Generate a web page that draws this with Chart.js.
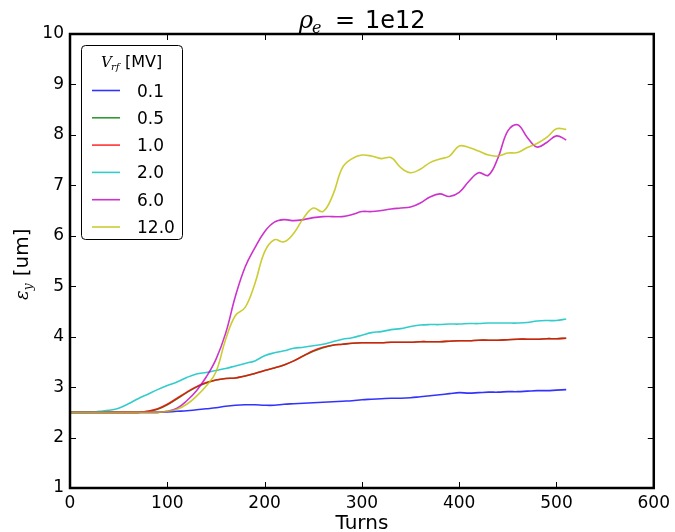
<!DOCTYPE html>
<html><head><meta charset="utf-8">
<script src="https://cdn.jsdelivr.net/npm/chart.js@4/dist/chart.umd.min.js"></script>
<style>html,body{margin:0;padding:0;background:#fff;}canvas{display:block;}</style>
</head><body>
<canvas id="c" width="675" height="532"></canvas>
<script>
const turns = [0,10,20,30,40,50,60,70,80,90,100,110,120,130,140,150,160,170,180,190,200,210,220,230,240,250,260,270,280,290,300,310,320,330,340,350,360,370,380,390,400,410,420,430,440,450,460,470,480,490,500,510];
const seriesLabels = ['0.1','0.5','1.0','2.0','6.0','12.0'];
const v01 = [2.5,2.5,2.5,2.5,2.5,2.5,2.5,2.5,2.5,2.5,
  2.51,2.52,2.53,2.55,2.57,2.59,2.62,2.64,2.65,2.65,
  2.64,2.64,2.66,2.67,2.68,2.69,2.70,2.71,2.72,2.73,
  2.75,2.76,2.77,2.78,2.78,2.79,2.81,2.83,2.85,2.87,
  2.89,2.88,2.89,2.90,2.90,2.91,2.91,2.92,2.93,2.93,
  2.94,2.95];
const v05 = [2.5,2.5,2.5,2.5,2.5,2.5,2.5,2.5,2.52,2.56,
  2.65,2.77,2.89,3.00,3.08,3.14,3.17,3.18,3.22,3.27,
  3.33,3.38,3.44,3.52,3.62,3.71,3.78,3.83,3.85,3.87,
  3.88,3.88,3.88,3.89,3.89,3.89,3.90,3.90,3.90,3.91,
  3.92,3.92,3.93,3.93,3.93,3.94,3.95,3.95,3.95,3.96,
  3.96,3.97];
const v10 = [2.5,2.5,2.5,2.5,2.5,2.5,2.5,2.5,2.52,2.57,
  2.66,2.78,2.90,3.01,3.09,3.14,3.17,3.18,3.22,3.27,
  3.33,3.38,3.44,3.52,3.62,3.72,3.79,3.83,3.85,3.87,
  3.88,3.88,3.88,3.89,3.89,3.89,3.90,3.90,3.90,3.91,
  3.92,3.92,3.93,3.93,3.93,3.94,3.95,3.95,3.95,3.96,
  3.96,3.97];
const v20 = [2.5,2.5,2.5,2.52,2.54,2.58,2.67,2.77,2.86,2.95,
  3.03,3.10,3.19,3.26,3.29,3.33,3.37,3.42,3.47,3.52,
  3.62,3.68,3.72,3.77,3.79,3.82,3.85,3.90,3.95,3.98,
  4.03,4.08,4.10,4.14,4.16,4.20,4.23,4.24,4.24,4.25,
  4.25,4.26,4.26,4.27,4.27,4.27,4.27,4.28,4.31,4.32,
  4.32,4.35];
const v60 = [2.5,2.5,2.5,2.5,2.5,2.5,2.5,2.5,2.5,2.5,
  2.52,2.58,2.73,2.93,3.20,3.55,4.07,4.80,5.38,5.76,
  6.08,6.27,6.32,6.30,6.32,6.36,6.38,6.38,6.38,6.42,
  6.48,6.48,6.50,6.53,6.55,6.57,6.65,6.77,6.83,6.78,
  6.86,7.08,7.25,7.20,7.55,8.08,8.20,7.95,7.76,7.85,
  7.98,7.90];
const v120 = [2.5,2.5,2.5,2.5,2.5,2.5,2.5,2.5,2.5,2.5,
  2.52,2.56,2.66,2.82,3.02,3.30,3.95,4.42,4.58,5.05,
  5.68,5.92,5.88,6.05,6.35,6.55,6.48,6.80,7.35,7.53,
  7.60,7.58,7.53,7.55,7.35,7.25,7.32,7.45,7.52,7.58,
  7.78,7.75,7.68,7.60,7.58,7.64,7.65,7.75,7.83,7.95,
  8.12,8.11];
const xTickValues = [0,100,200,300,400,500,600];
const yTickValues = [1,2,3,4,5,6,7,8,9,10];

const seriesValues = [v01, v05, v10, v20, v60, v120];
const colors = ['rgba(0,0,255,0.8)','rgba(0,128,0,0.8)','rgba(255,0,0,0.8)','rgba(0,191,191,0.8)','rgba(191,0,191,0.8)','rgba(191,191,0,0.8)'];

const datasets = seriesValues.map((vals, i) => ({
  label: seriesLabels[i],
  data: turns.map((t, j) => ({x: t, y: vals[j]})),
  borderColor: colors[i],
  backgroundColor: colors[i],
  borderWidth: 1.6,
  pointRadius: 0,
  tension: 0.4,
  fill: false,
  order: seriesValues.length - i
}));

const SANS = '"DejaVu Sans"';
const SERIF = '"DejaVu Serif"';

const deco = {
  id: 'deco',
  afterDatasetsDraw(chart) {
    const {ctx, chartArea: a, scales: {x, y}} = chart;
    ctx.save();
    ctx.strokeStyle = '#000';
    ctx.lineWidth = 1;
    const L = 6;
    ctx.beginPath();
    xTickValues.forEach(v => {
      const px = Math.round(x.getPixelForValue(v)) + 0.5;
      ctx.moveTo(px, a.bottom); ctx.lineTo(px, a.bottom - L);
      ctx.moveTo(px, a.top); ctx.lineTo(px, a.top + L);
    });
    yTickValues.forEach(v => {
      const py = Math.round(y.getPixelForValue(v)) + 0.5;
      ctx.moveTo(a.left, py); ctx.lineTo(a.left + L, py);
      ctx.moveTo(a.right, py); ctx.lineTo(a.right - L, py);
    });
    ctx.stroke();
    ctx.lineWidth = 2.5;
    ctx.strokeRect(a.left, a.top, a.right - a.left, a.bottom - a.top);

    // legend
    const lx = 81.5, ly = 45.5, lw = 101, lh = 194;
    ctx.beginPath();
    ctx.roundRect(lx, ly, lw, lh, 4);
    ctx.fillStyle = '#fff';
    ctx.fill();
    ctx.lineWidth = 1;
    ctx.strokeStyle = '#000';
    ctx.stroke();
    ctx.fillStyle = '#000';
    ctx.textBaseline = 'alphabetic';
    ctx.textAlign = 'left';
    ctx.font = 'italic 15px ' + SERIF;
    ctx.fillText('V', 101, 67);
    ctx.font = 'italic 10px ' + SERIF;
    ctx.fillText('rf', 111, 70);
    ctx.font = '16px ' + SANS;
    ctx.fillText('[MV]', 125, 67);
    chart.data.datasets.forEach((ds, i) => {
      const cy = 90.5 + 27.3 * i;
      ctx.strokeStyle = ds.borderColor;
      ctx.lineWidth = 1.6;
      ctx.beginPath();
      ctx.moveTo(92, cy); ctx.lineTo(120, cy);
      ctx.stroke();
      ctx.fillStyle = '#000';
      ctx.font = '17px ' + SANS;
      ctx.fillText(ds.label, 137, cy + 6);
    });

    // title
    ctx.fillStyle = '#000';
    ctx.font = 'italic 24px ' + SERIF;
    ctx.fillText('\u03C1', 299, 28);
    ctx.font = 'italic 16px ' + SERIF;
    ctx.fillText('e', 312, 33);
    ctx.font = '24px ' + SANS;
    ctx.fillText('=', 335, 28);
    ctx.fillText('1e12', 365, 28);

    // x label
    ctx.textAlign = 'center';
    ctx.font = '20px ' + SANS;
    ctx.fillText('Turns', (a.left + a.right) / 2, 529);

    // y label
    ctx.save();
    ctx.translate(28, 300);
    ctx.rotate(-Math.PI / 2);
    ctx.textAlign = 'left';
    ctx.font = 'italic 18px ' + SERIF;
    ctx.fillText('\u03B5', 0, 0);
    const w1 = ctx.measureText('\u03B5').width;
    ctx.font = 'italic 12px ' + SERIF;
    ctx.fillText('y', w1, 4);
    const w2 = ctx.measureText('y').width;
    ctx.font = '20px ' + SANS;
    ctx.fillText(' [um]', w1 + w2 + 1, 0);
    ctx.restore();

    ctx.restore();
  }
};

new Chart(document.getElementById('c'), {
  type: 'line',
  data: { datasets },
  options: {
    responsive: false,
    animation: false,
    devicePixelRatio: 1,
    layout: { padding: { left: 0, right: 18, top: 34, bottom: 0 } },
    plugins: { legend: { display: false }, tooltip: { enabled: false }, title: { display: false } },
    scales: {
      x: {
        type: 'linear', min: 0, max: 600,
        afterBuildTicks: s => { s.ticks = xTickValues.map(v => ({value: v})); },
        afterFit: s => { s.height = 44; },
        grid: { display: false, drawTicks: false },
        border: { display: false },
        ticks: { color: '#000', font: { family: 'DejaVu Sans', size: 17 }, padding: 5, maxRotation: 0 }
      },
      y: {
        type: 'linear', min: 1, max: 10,
        afterBuildTicks: s => { s.ticks = yTickValues.map(v => ({value: v})); },
        afterFit: s => { s.width = 70; },
        grid: { display: false, drawTicks: false },
        border: { display: false },
        ticks: { color: '#000', font: { family: 'DejaVu Sans', size: 17 }, padding: 6 }
      }
    }
  },
  plugins: [deco]
});
</script>
</body></html>
